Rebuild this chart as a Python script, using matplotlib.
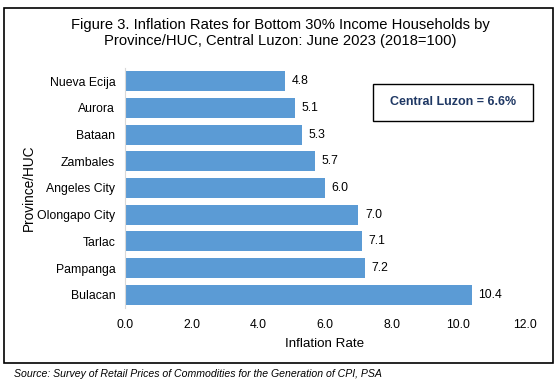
import matplotlib.pyplot as plt
from matplotlib.patches import Rectangle

plt.rcParams['font.family'] = ['Liberation Sans', 'DejaVu Sans']

provinces = ['Nueva Ecija', 'Aurora', 'Bataan', 'Zambales', 'Angeles City',
             'Olongapo City', 'Tarlac', 'Pampanga', 'Bulacan']
rates = [4.8, 5.1, 5.3, 5.7, 6.0, 7.0, 7.1, 7.2, 10.4]
x_ticks = [0, 2, 4, 6, 8, 10, 12]

fig = plt.figure(figsize=(5.6, 3.82), dpi=100)
ax = fig.add_axes([125/560, 1 - 308/382, (525-125)/560, (308-68)/382])

ypos = list(range(len(provinces)))
ax.barh(ypos, rates, height=0.75, color='#5b9bd5')
ax.set_ylim(len(provinces) - 0.5, -0.5)
ax.set_xlim(0, 12)
ax.set_yticks(ypos)
ax.set_yticklabels(provinces, fontsize=8.8)
ax.set_xticks(x_ticks)
ax.set_xticklabels([f'{t:.1f}' for t in x_ticks], fontsize=8.8)
ax.tick_params(length=0, pad=7)
ax.tick_params(axis='x', pad=8)
for s in ['top', 'right', 'bottom']:
    ax.spines[s].set_visible(False)
ax.spines['left'].set_color('#d9d9d9')

for y, v in zip(ypos, rates):
    ax.text(v + 0.2, y, f'{v:.1f}', va='center', ha='left', fontsize=8.8)

ax.set_xlabel('Inflation Rate', fontsize=9.6, labelpad=5)
ax.set_ylabel('Province/HUC', fontsize=9.8, labelpad=1)

fig.text(0.5, 1 - 33/382,
         'Figure 3. Inflation Rates for Bottom 30% Income Households by\nProvince/HUC, Central Luzon: June 2023 (2018=100)',
         ha='center', va='center', fontsize=10.6, linespacing=1.2)

# summary box
fig.patches.append(Rectangle((373/560, 1 - 121/382), 160/560, 37/382,
                             transform=fig.transFigure, fill=False,
                             edgecolor='black', linewidth=1))
fig.text(453/560, 1 - 102/382, 'Central Luzon = 6.6%', ha='center', va='center',
         fontsize=9, fontweight='bold', color='#1f3864')

# outer border
fig.patches.append(Rectangle((4/560, 1 - 363/382), 549/560, 355/382,
                             transform=fig.transFigure, fill=False,
                             edgecolor='black', linewidth=1.2))

fig.text(14/560, 1 - 374/382,
         'Source: Survey of Retail Prices of Commodities for the Generation of CPI, PSA',
         ha='left', va='center', fontsize=7.6, style='italic')

fig.savefig('out.png', dpi=100)
